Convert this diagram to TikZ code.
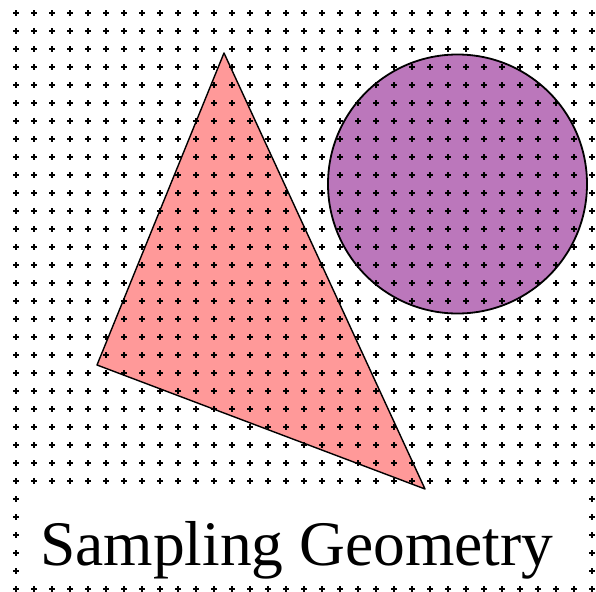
\documentclass[tikz,border=0pt]{standalone}
\usepackage{fontspec}
\setmainfont{Liberation Serif}
\definecolor{tripink}{HTML}{FF9999}
\definecolor{circpurple}{HTML}{BB77BB}
\begin{document}
\begin{tikzpicture}[x=1pt,y=-1pt,
  shapeline/.style={draw=black,line width=1.4pt,line join=round},
  dotmark/.style={line width=2.2pt,black}]
\useasboundingbox (0,0) rectangle (596,591);
\fill[white] (0,0) rectangle (596,591);
% triangle
\filldraw[shapeline,fill=tripink] (224,53) -- (97,365) -- (425,489) -- cycle;
% circle
\filldraw[shapeline,line width=1.8pt,fill=circpurple] (457.5,184) circle (129.5);
% dot grid
\foreach \i in {0,...,32}{
  \foreach \j in {0,...,32}{
    \pgfmathsetmacro{\px}{16+18*\i}
    \pgfmathsetmacro{\py}{13+18*\j}
    \draw[dotmark] (\px-2.9,\py) -- (\px+2.9,\py) (\px,\py-2.9) -- (\px,\py+2.9);
    \fill[black] (\px,\py) circle (1.7);
  }
}
% caption box
\fill[white] (25,490) rectangle (583,580);
\node[anchor=base west,inner sep=0pt,font=\fontsize{63.5}{70}\selectfont] (title) at (40,565) {Sampling Geometry};
\end{tikzpicture}
\end{document}
